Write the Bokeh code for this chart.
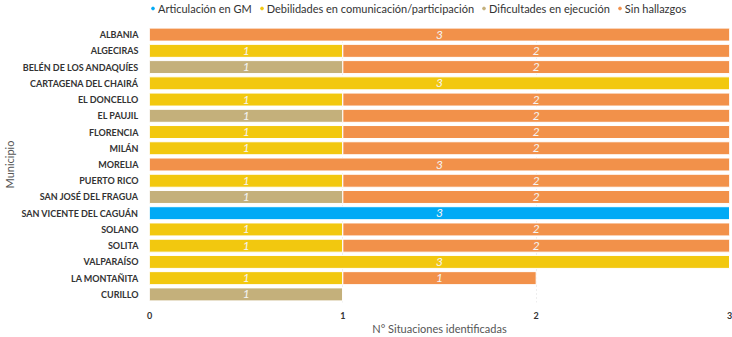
from bokeh.plotting import figure
from bokeh.layouts import column
from bokeh.models import ColumnDataSource, FactorRange, Range1d, Legend, LegendItem, FixedTicker
from bokeh.core.properties import value
from bokeh.embed import file_html
from bokeh.resources import INLINE

municipios = ["ALBANIA", "ALGECIRAS", "BELÉN DE LOS ANDAQUÍES", "CARTAGENA DEL CHAIRÁ",
              "EL DONCELLO", "EL PAUJIL", "FLORENCIA", "MILÁN", "MORELIA", "PUERTO RICO",
              "SAN JOSÉ DEL FRAGUA", "SAN VICENTE DEL CAGUÁN", "SOLANO", "SOLITA",
              "VALPARAÍSO", "LA MONTAÑITA", "CURILLO"]
series = ["Articulación en GM", "Debilidades en comunicación/participación",
          "Dificultades en ejecución", "Sin hallazgos"]
articulacion = [0, 0, 0, 0, 0, 0, 0, 0, 0, 0, 0, 3, 0, 0, 0, 0, 0]
debilidades  = [0, 1, 0, 3, 1, 0, 1, 1, 0, 1, 0, 0, 1, 1, 3, 1, 0]
dificultades = [0, 0, 1, 0, 0, 1, 0, 0, 0, 0, 1, 0, 0, 0, 0, 0, 1]
sin_hallazgos = [3, 2, 2, 0, 2, 2, 2, 2, 3, 2, 2, 0, 2, 2, 0, 1, 0]
colors = ["#01AAF5", "#F2C80F", "#C4B07B", "#F2914A"]
x_ticks = [0, 1, 2, 3]

FONT = "Lato"
keys = ["a", "d", "f", "s"]
data = dict(muni=municipios, a=articulacion, d=debilidades, f=dificultades, s=sin_hallazgos)
source = ColumnDataSource(data)

# ---- legend strip ----
lg = figure(width=732, height=26, output_backend="svg", toolbar_location=None,
            x_range=Range1d(0, 1), y_range=Range1d(0, 1),
            x_axis_location=None, y_axis_location=None,
            min_border_left=0, min_border_right=0, min_border_top=0, min_border_bottom=0)
lg.outline_line_color = None
lg.xgrid.grid_line_color = None
lg.ygrid.grid_line_color = None
dummies = []
for c in colors:
    dummies.append(lg.scatter(x=[float("nan")], y=[float("nan")], marker="circle", size=7, color=c))
legend = Legend(items=[LegendItem(label=s, renderers=[r]) for s, r in zip(series, dummies)],
                orientation="horizontal", location=(0, 11),
                glyph_width=7, glyph_height=14, label_height=14, label_standoff=2,
                spacing=6, padding=0, margin=0, border_line_color=None,
                background_fill_alpha=0,
                label_text_font=FONT, label_text_font_size="11px", label_text_color="#333333")
lg.add_layout(legend, "center")

# ---- main chart ----
p = figure(width=732, height=311, output_backend="svg", toolbar_location=None,
           y_range=FactorRange(factors=list(reversed(municipios)), range_padding=0),
           x_range=Range1d(0, 3),
           min_border_left=148, min_border_right=3, min_border_top=0, min_border_bottom=30)
p.outline_line_color = None

p.hbar_stack(keys, y="muni", height=0.8, color=colors, source=source,
             line_color="white", line_width=1)

lx, ly, lt = [], [], []
for i, m in enumerate(municipios):
    start = 0
    for arr in (articulacion, debilidades, dificultades, sin_hallazgos):
        v = arr[i]
        if v > 0:
            lx.append(start + v / 2)
            ly.append(m)
            lt.append(str(v))
        start += v
p.text(x=lx, y=ly, text=lt, text_align="center", text_baseline="middle",
       text_color="#F4F4F4", text_font=value(FONT), text_font_style="italic",
       text_font_size="12px")

p.xaxis.ticker = FixedTicker(ticks=x_ticks)
p.xaxis.axis_line_color = None
p.xaxis.major_tick_line_color = None
p.xaxis.minor_tick_line_color = None
p.xaxis.major_label_text_font = FONT
p.xaxis.major_label_text_font_style = "bold"
p.xaxis.major_label_text_font_size = "9px"
p.xaxis.major_label_text_color = "#333333"
p.xaxis.major_label_standoff = 3
p.xaxis.axis_label = "N° Situaciones identificadas"
p.xaxis.axis_label_text_font = FONT
p.xaxis.axis_label_text_font_style = "normal"
p.xaxis.axis_label_text_font_size = "11px"
p.xaxis.axis_label_text_color = "#555555"
p.xaxis.axis_label_standoff = 0

p.yaxis.axis_line_color = None
p.yaxis.major_tick_line_color = None
p.yaxis.minor_tick_line_color = None
p.yaxis.major_label_text_font = FONT
p.yaxis.major_label_text_font_style = "bold"
p.yaxis.major_label_text_font_size = "9px"
p.yaxis.major_label_text_color = "#333333"
p.yaxis.major_label_standoff = 5
p.yaxis.axis_label = "Municipio"
p.yaxis.axis_label_text_font = FONT
p.yaxis.axis_label_text_font_style = "normal"
p.yaxis.axis_label_text_font_size = "11px"
p.yaxis.axis_label_text_color = "#555555"
p.yaxis.axis_label_standoff = 2

p.ygrid.grid_line_color = None
p.xgrid.grid_line_color = "#DDDDDD"
p.xgrid.grid_line_dash = "1 3"

layout = column(lg, p, spacing=0)
open("out.html", "w").write(file_html(layout, INLINE))
